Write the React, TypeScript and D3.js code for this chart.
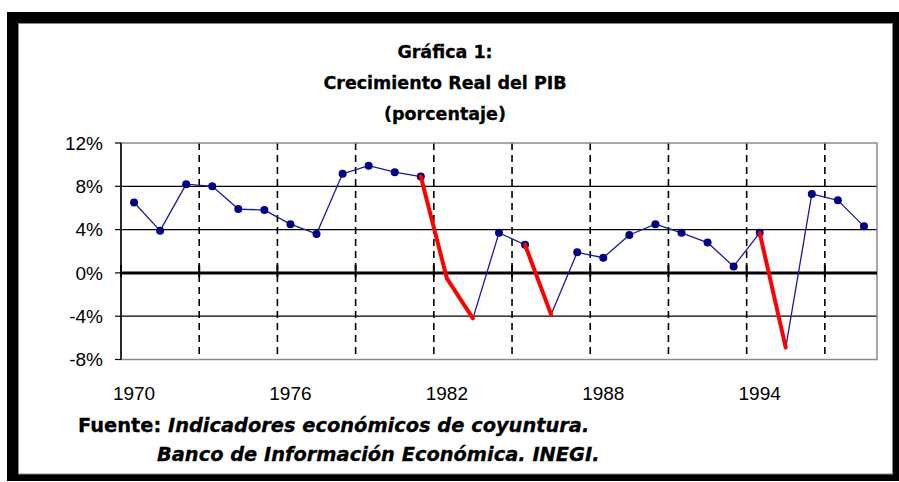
import React, { useEffect } from "react";
import * as d3 from "d3";

const years = [
  1970, 1971, 1972, 1973, 1974, 1975, 1976, 1977, 1978, 1979,
  1980, 1981, 1982, 1983, 1984, 1985, 1986, 1987, 1988, 1989,
  1990, 1991, 1992, 1993, 1994, 1995, 1996, 1997, 1998,
];
const growth = [
  6.5, 3.9, 8.2, 8.0, 5.9, 5.8, 4.5, 3.6, 9.15, 9.9,
  9.3, 8.9, -0.5, -4.2, 3.7, 2.6, -3.85, 1.9, 1.4, 3.5,
  4.5, 3.7, 2.8, 0.6, 3.7, -6.9, 7.3, 6.7, 4.3,
];
// years whose incoming segment is highlighted in red (falls)
const redYears = [1982, 1983, 1986, 1995];
const yTicks = [-8, -4, 0, 4, 8, 12];
const xLabelYears = [1970, 1976, 1982, 1988, 1994];
const tickEvery = 3;
const titleLines = ["Gráfica 1:", "Crecimiento Real del PIB", "(porcentaje)"];

const W = 899;
const H = 482;
const plot = { left: 121, right: 877, top: 143, bottom: 359.5 };

export default function App() {
  useEffect(() => {
    document.body.style.margin = "0";
  }, []);

  const x = d3
    .scaleBand<number>()
    .domain(years)
    .range([plot.left, plot.right])
    .padding(0);
  const y = d3.scaleLinear().domain([-8, 12]).range([plot.bottom, plot.top]);
  const cx = (yr: number) => (x(yr) as number) + x.bandwidth() / 2;

  const pts = years.map((yr, i) => ({ yr, v: growth[i] }));
  const line = d3
    .line<{ yr: number; v: number }>()
    .x((d) => cx(d.yr))
    .y((d) => y(d.v));

  const segs = pts.slice(1).map((p, i) => ({
    a: pts[i],
    b: p,
    red: redYears.includes(p.yr),
  }));

  const boundaries: number[] = [];
  for (let i = tickEvery; i < years.length; i += tickEvery) {
    boundaries.push(plot.left + i * x.bandwidth());
  }

  const axisFont = "'Liberation Sans', Arial, sans-serif";
  const boldFont = "'DejaVu Sans', Verdana, sans-serif";

  return (
    <svg width={W} height={H} style={{ display: "block" }}>
      {/* outer frame */}
      <rect x={0} y={0} width={W} height={H} fill="#fff" />
      <rect x={7} y={12} width={892} height={469} fill="#000" />
      <rect x={18.5} y={23.5} width={874} height={450.5} fill="#fff" stroke="#888" strokeWidth={1} />

      {/* title */}
      {titleLines.map((t, i) => (
        <text
          key={t}
          x={445}
          y={58 + i * 31}
          textAnchor="middle"
          fontFamily={boldFont}
          fontWeight="bold"
          fontSize={17.5}
          fill="#000"
          stroke="#000"
          strokeWidth={0.3}
        >
          {t}
        </text>
      ))}

      {/* horizontal gridlines */}
      {yTicks
        .filter((t) => t !== 0 && t !== 12 && t !== -8)
        .map((t) => (
          <line
            key={"g" + t}
            x1={plot.left}
            x2={plot.right}
            y1={y(t)}
            y2={y(t)}
            stroke="#000"
            strokeWidth={1.2}
          />
        ))}

      {/* vertical dashed gridlines */}
      {boundaries.map((bx) => (
        <line
          key={"v" + bx}
          x1={bx}
          x2={bx}
          y1={plot.top}
          y2={plot.bottom}
          stroke="#000"
          strokeWidth={1.6}
          strokeDasharray="7,5"
        />
      ))}

      {/* plot border */}
      <rect
        x={plot.left}
        y={plot.top}
        width={plot.right - plot.left}
        height={plot.bottom - plot.top}
        fill="none"
        stroke="#8a8a8a"
        strokeWidth={1.5}
      />

      {/* zero line */}
      <line x1={plot.left} x2={plot.right} y1={y(0)} y2={y(0)} stroke="#000" strokeWidth={3} />
      {/* category tick marks on zero line */}
      {[plot.left, ...boundaries].map((bx) => (
        <line
          key={"t" + bx}
          x1={bx}
          x2={bx}
          y1={y(0) - 8}
          y2={y(0) + 4}
          stroke="#000"
          strokeWidth={2}
        />
      ))}

      {/* y axis */}
      <line x1={plot.left} x2={plot.left} y1={plot.top} y2={plot.bottom} stroke="#000" strokeWidth={1.5} />
      {yTicks.map((t) => (
        <g key={"y" + t}>
          <line x1={plot.left - 6} x2={plot.left} y1={y(t)} y2={y(t)} stroke="#000" strokeWidth={1.2} />
          <text
            x={103}
            y={y(t)}
            dy="0.36em"
            textAnchor="end"
            fontFamily={axisFont}
            fontSize={19}
            fill="#000"
          >
            {t + "%"}
          </text>
        </g>
      ))}

      {/* x labels */}
      {xLabelYears.map((yr) => (
        <text
          key={"x" + yr}
          x={cx(yr)}
          y={400}
          textAnchor="middle"
          fontFamily={axisFont}
          fontSize={19}
          fill="#000"
        >
          {yr}
        </text>
      ))}

      {/* series */}
      {segs
        .filter((s) => !s.red)
        .map((s) => (
          <path
            key={"b" + s.b.yr}
            d={line([s.a, s.b]) as string}
            fill="none"
            stroke="#1a1aa0"
            strokeWidth={1.3}
          />
        ))}
      {pts
        .filter((p) => !redYears.includes(p.yr))
        .map((p) => (
          <circle key={"m" + p.yr} cx={cx(p.yr)} cy={y(p.v)} r={4} fill="#000080" />
        ))}
      {segs
        .filter((s) => s.red)
        .map((s) => (
          <path
            key={"r" + s.b.yr}
            d={line([s.a, s.b]) as string}
            fill="none"
            stroke="#ff0000"
            strokeWidth={4}
            strokeLinecap="round"
          />
        ))}

      {/* source */}
      <text x={78} y={432} fontFamily={boldFont} fontWeight="bold" fontSize={19.4} fill="#000" stroke="#000" strokeWidth={0.3}>
        <tspan>Fuente: </tspan>
        <tspan fontStyle="italic">Indicadores económicos de coyuntura.</tspan>
      </text>
      <text
        x={157}
        y={461}
        fontFamily={boldFont}
        fontWeight="bold"
        fontStyle="italic"
        fontSize={19.4}
        fill="#000"
        stroke="#000"
        strokeWidth={0.3}
      >
        Banco de Información Económica. INEGI.
      </text>
    </svg>
  );
}
